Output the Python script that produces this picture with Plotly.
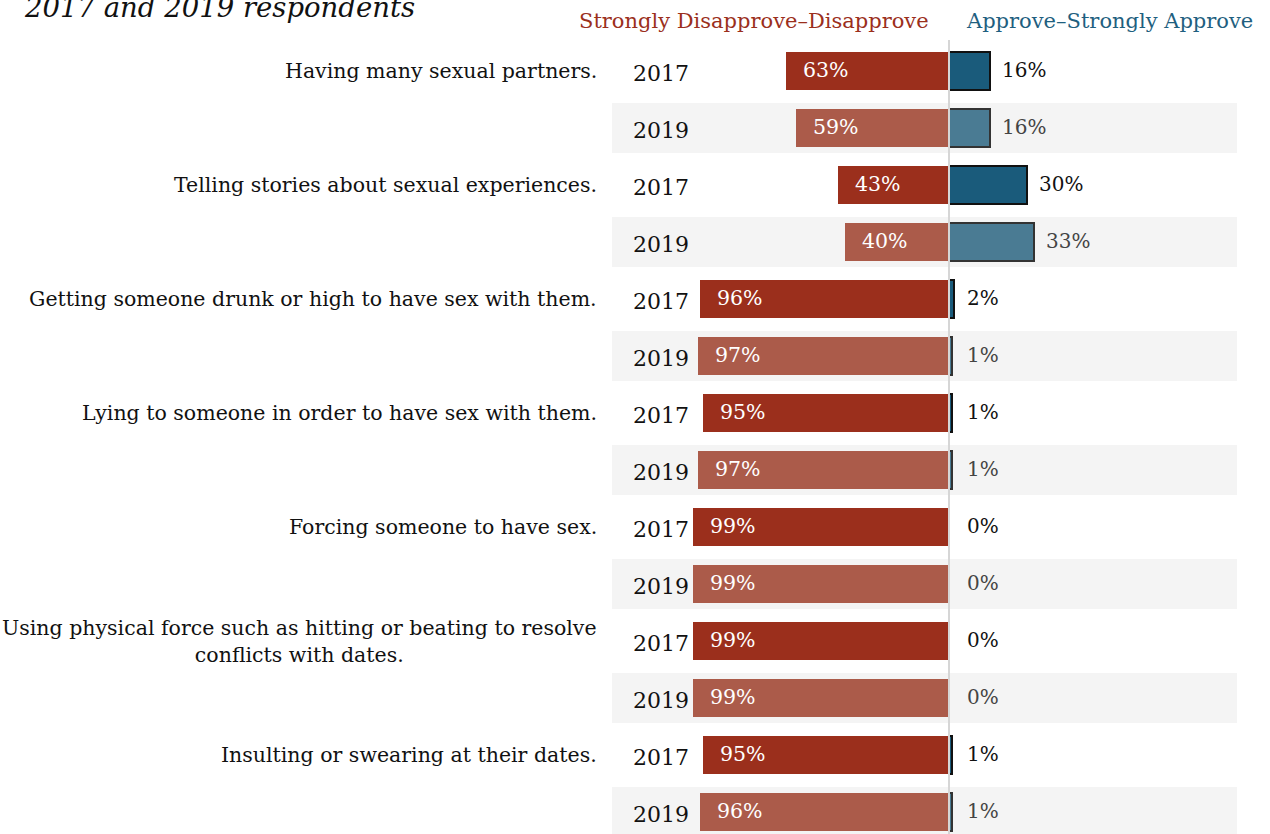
import plotly.graph_objects as go

# Survey items (one per pair of rows) and responses by year, in percent
items = [
    "Having many sexual partners.",
    "Telling stories about sexual experiences.",
    "Getting someone drunk or high to have sex with them.",
    "Lying to someone in order to have sex with them.",
    "Forcing someone to have sex.",
    "Using physical force such as hitting or beating to resolve<br>conflicts with dates.",
    "Insulting or swearing at their dates.",
]
years = ["2017", "2019"]
disapprove_2017 = [63, 43, 96, 95, 99, 99, 95]
disapprove_2019 = [59, 40, 97, 97, 99, 99, 96]
approve_2017 = [16, 30, 2, 1, 0, 0, 1]
approve_2019 = [16, 33, 1, 1, 0, 0, 1]

W, H = 1270, 834
FONT = "DejaVu Serif"
PX_PER_PCT = 2.59          # horizontal scale
ZERO_PX = 949              # pixel position of the 0 line
ROW0_PX, ROW_PITCH = 71, 57

x0 = -ZERO_PX / PX_PER_PCT
x1 = x0 + W / PX_PER_PCT
y_top = -ROW0_PX / ROW_PITCH
y_bot = (H - ROW0_PX) / ROW_PITCH

RED = ["#9b2f1c", "#ab5b4a"]
BLUE = ["#1a5b7b", "#4a7b93"]
BLUE_LINE = ["#111111", "#333333"]
RIGHT_TXT = ["#111111", "#444444"]

fig = go.Figure()
shapes = []
annotations = []

for k, (dis, app) in enumerate([(disapprove_2017, approve_2017), (disapprove_2019, approve_2019)]):
    rows = [2 * i + k for i in range(len(items))]
    fig.add_trace(go.Bar(
        y=rows, x=[-v for v in dis], orientation="h", width=0.67,
        marker=dict(color=RED[k], line=dict(width=0)),
        hoverinfo="skip", showlegend=False,
    ))
    fig.add_trace(go.Bar(
        y=rows, x=app, orientation="h", width=0.67,
        marker=dict(color=BLUE[k], line=dict(color=BLUE_LINE[k], width=2)),
        hoverinfo="skip", showlegend=False,
    ))
    for r, d, a in zip(rows, dis, app):
        annotations.append(dict(
            x=-d, y=r, xref="x", yref="y", text=f"{d}%", showarrow=False,
            xanchor="left", yanchor="middle", xshift=15, yshift=1,
            font=dict(family=FONT, size=20.5, color="white"),
        ))
        annotations.append(dict(
            x=a, y=r, xref="x", yref="y", text=f"{a}%", showarrow=False,
            xanchor="left", yanchor="middle",
            xshift=max(10, 16 - a * PX_PER_PCT), yshift=1,
            font=dict(family=FONT, size=20, color=RIGHT_TXT[k]),
        ))
        annotations.append(dict(
            x=661 / W, y=r, xref="paper", yref="y", text=years[k], showarrow=False,
            xanchor="center", yanchor="middle", yshift=-2,
            font=dict(family=FONT, size=22, color="#111111"),
        ))
        if k == 1:
            shapes.append(dict(
                type="rect", xref="paper", yref="y",
                x0=612 / W, x1=1237 / W, y0=r - 25 / ROW_PITCH, y1=r + 25 / ROW_PITCH,
                fillcolor="#f4f4f4", line=dict(width=0), layer="below",
            ))

for i, label in enumerate(items):
    annotations.append(dict(
        x=599 / W, y=2 * i, xref="paper", yref="y", text=label, showarrow=False,
        xanchor="right", yanchor="middle", align="center",
        font=dict(family=FONT, size=20.5, color="#111111"),
    ))

# zero line
shapes.append(dict(
    type="line", xref="x", yref="paper", x0=0, x1=0,
    y0=0, y1=1 - 40 / H, line=dict(color="#d6d6d6", width=2), layer="above",
))

# column headers and title
annotations += [
    dict(x=931 / W, y=1 - 21 / H, xref="paper", yref="paper",
         text="Strongly Disapprove\u2013Disapprove", showarrow=False,
         xanchor="right", yanchor="middle",
         font=dict(family=FONT, size=21, color="#9b2f1c")),
    dict(x=964 / W, y=1 - 21 / H, xref="paper", yref="paper",
         text="Approve\u2013Strongly Approve", showarrow=False,
         xanchor="left", yanchor="middle",
         font=dict(family=FONT, size=21, color="#1f5f80")),
    dict(x=22 / W, y=1 - 7 / H, xref="paper", yref="paper",
         text="<i>2017 and 2019 respondents</i>", showarrow=False,
         xanchor="left", yanchor="middle",
         font=dict(family=FONT, size=27.5, color="#111111")),
]

fig.update_layout(
    width=W, height=H,
    margin=dict(l=0, r=0, t=0, b=0, pad=0),
    paper_bgcolor="white", plot_bgcolor="white",
    barmode="relative", bargap=0,
    xaxis=dict(range=[x0, x1], visible=False, fixedrange=True),
    yaxis=dict(range=[y_bot, y_top], visible=False, fixedrange=True),
    shapes=shapes, annotations=annotations,
)

fig.write_html("out.html")
